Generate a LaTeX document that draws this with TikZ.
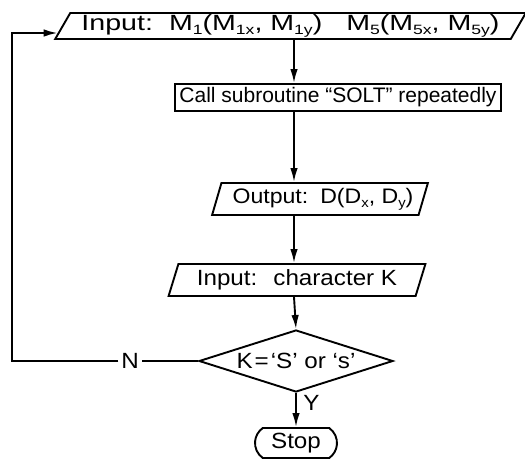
\documentclass[tikz,border=0pt]{standalone}
\usepackage{fontspec}
\setmainfont{Liberation Sans}[FakeStretch=1.1]
\newfontfamily\widefont{Liberation Sans}[FakeStretch=1.3,Ligatures=TeX]
\newfontfamily\plainfont{Liberation Sans}[Ligatures=TeX]
\usetikzlibrary{shapes.geometric,shapes.misc,arrows.meta}
\newcommand\sbx[1]{\raisebox{-0.35ex}{\fontsize{13.5}{14}\selectfont #1}}
\begin{document}
\begin{tikzpicture}[x=1pt,y=-1pt,
  every node/.style={font=\fontsize{22}{24}\selectfont, line width=1.9pt},
  para/.style={draw, trapezium, trapezium stretches=true, inner sep=0pt},
  procbox/.style={draw, rectangle, inner sep=0pt},
  decide/.style={draw, diamond, aspect=3.1, inner sep=0pt},
  term/.style={draw, rounded rectangle, rounded rectangle arc length=110, inner sep=0pt},
  arr/.style={line width=1.9pt, -{Latex[length=14pt,width=7.5pt]}},
  lnk/.style={line width=1.9pt}]
\useasboundingbox (0,0) rectangle (525,459);
\node[para, trapezium left angle=58, trapezium right angle=122,
      minimum width=473, minimum height=26, font=\widefont\fontsize{22}{24}\selectfont] (in1) at (290.5,26)
  {Input:\hspace{16pt}M\sbx{1}(M\sbx{1x}, M\sbx{1y})\hspace{24pt}M\sbx{5}(M\sbx{5x}, M\sbx{5y})};
\node[procbox, minimum width=326, minimum height=27, font=\plainfont\fontsize{21}{23}\selectfont] (call) at (338,97.5)
  {Call subroutine ``SOLT'' repeatedly};
\node[para, trapezium left angle=68, trapezium right angle=112,
      minimum width=216, minimum height=32, font=\fontsize{21}{23}\selectfont] (out) at (320,199)
  {\hspace{6pt}Output:\hspace{12pt}D(D\sbx{x}, D\sbx{y})};
\node[para, trapezium left angle=68, trapezium right angle=112,
      minimum width=257, minimum height=32] (ink) at (297,280)
  {Input:\hspace{16pt}character K};
\node[decide, minimum width=194, minimum height=62] (dec) at (296,361)
  {K\kern2pt=\kern2pt`S' or `s'};
\node[term, minimum width=82, minimum height=30] (stop) at (296,443) {Stop};
\coordinate (spine) at (294,0);
\coordinate (lc) at (12,0);
\draw[arr] (spine |- in1.south) -- (spine |- call.north);
\draw[arr] (spine |- call.south) -- (spine |- out.north);
\draw[arr] (spine |- out.south) -- (spine |- ink.north);
\draw[arr] (spine |- ink.south) -- (dec.north);
\draw[arr] (dec.south) -- node[pos=0.3, anchor=west, xshift=3pt]{Y} (stop.north);
\node[fill=white, inner sep=2pt] (nlab) at (130,361) {N};
\coordinate (ent) at ([shift={(-4,7)}]in1.west);
\draw[lnk] (dec.west) -- (nlab.east);
\draw[arr] (nlab.west) -- (lc |- dec.west) -- (lc |- ent) -- (ent);
\end{tikzpicture}
\end{document}
